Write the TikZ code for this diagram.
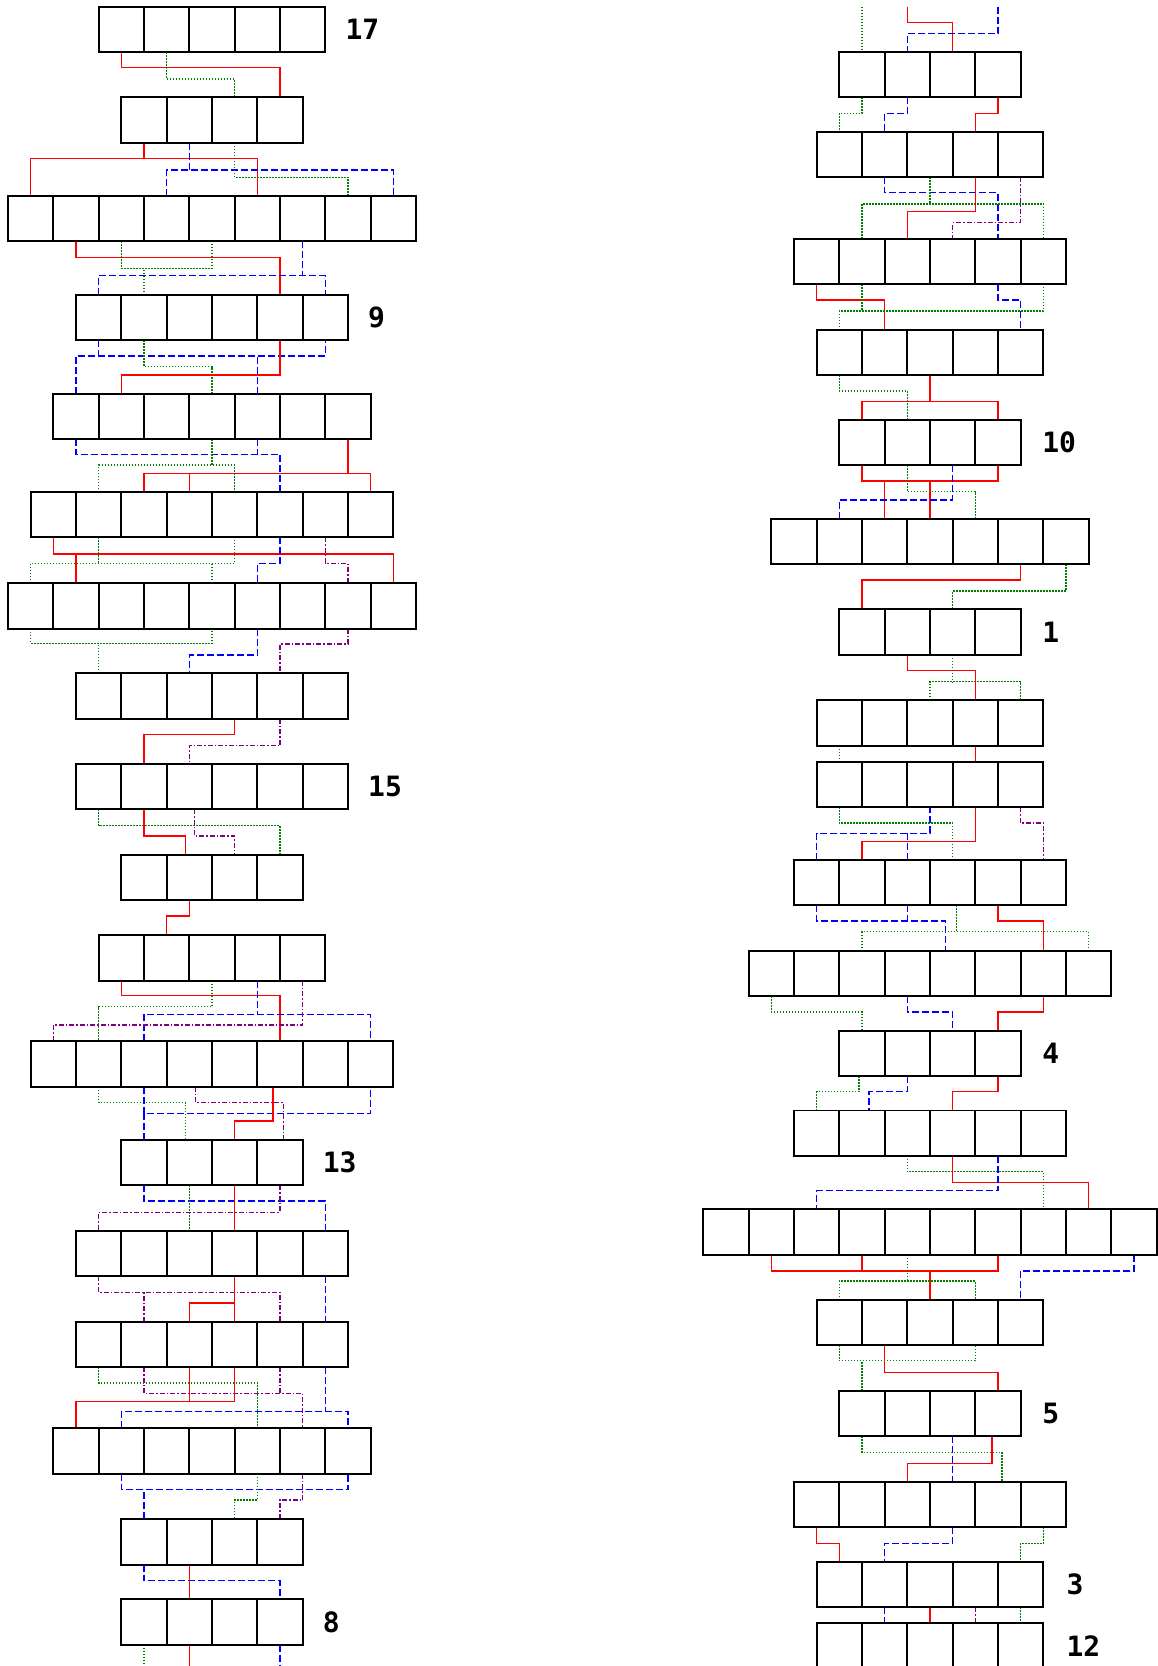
\documentclass[tikz,border=0pt]{standalone}
\usepackage{fontspec}
\newfontfamily\labfont{DejaVu Sans Mono}
\usetikzlibrary{backgrounds}
\definecolor{cR}{RGB}{255,0,0}
\definecolor{cB}{RGB}{0,0,255}
\definecolor{cG}{RGB}{0,128,0}
\definecolor{cP}{RGB}{128,0,128}
\newcommand\mycrow[4]{\foreach \i in {1,...,#2}{\node[cell] (#1\i) at ({#3+(\i-(#2+1)/2)*45.333},{#4+22.667}) {};}}
\newcommand\mylnk[4]{\draw[#1] (#2) -- (#2 |- 0,#3) -| (#4);}
\newcommand\myubar[4]{\draw[#1] (#2) -- (#2 |- 0,#4) -- (#3 |- 0,#4) -- (#3);}
\newcommand\mystub[3]{\draw[#1] (#2) -- (#2 |- 0,#3);}
\begin{document}
\begin{tikzpicture}[x=1pt,y=-1pt,
  cell/.style={draw=black,line width=1.8pt,minimum width=45.333pt,minimum height=45.333pt,inner sep=0pt,outer sep=0pt},
  rd/.style={draw=cR,line width=1.3pt},
  bl/.style={draw=cB,line width=1.3pt,dash pattern=on 7pt off 3pt},
  gr/.style={draw=cG,line width=1.3pt,dash pattern=on 1.5pt off 1.5pt},
  pu/.style={draw=cP,line width=1.3pt,dash pattern=on 5pt off 2pt on 1.5pt off 2pt},
  lab/.style={font=\labfont\bfseries\fontsize{28}{30}\selectfont,inner sep=0pt,anchor=west}]
\useasboundingbox (0,0) rectangle (1158,1666);
% ---------------- left column rows
\mycrow{LA}{5}{212}{6.7}
\mycrow{LB}{4}{212}{97.3}
\mycrow{LC}{9}{212}{195.7}
\mycrow{LD}{6}{212}{295}
\mycrow{LE}{7}{212}{393.7}
\mycrow{LF}{8}{212}{492}
\mycrow{LG}{9}{212}{583.3}
\mycrow{LH}{6}{212}{673.3}
\mycrow{LI}{6}{212}{764}
\mycrow{LJ}{4}{212}{855}
\mycrow{LK}{5}{212}{935.3}
\mycrow{LL}{8}{212}{1041.3}
\mycrow{LM}{4}{212}{1140}
\mycrow{LN}{6}{212}{1231}
\mycrow{LO}{6}{212}{1321.7}
\mycrow{LP}{7}{212}{1428.3}
\mycrow{LQ}{4}{212}{1519.3}
\mycrow{LR}{4}{212}{1599.3}
% ---------------- right column rows
\mycrow{Ra}{4}{930}{51.7}
\mycrow{Rb}{5}{930}{131.7}
\mycrow{Rc}{6}{930}{238.7}
\mycrow{Rd}{5}{930}{330}
\mycrow{Re}{4}{930}{420}
\mycrow{Rf}{7}{930}{519}
\mycrow{Rg}{4}{930}{609.3}
\mycrow{Rh}{5}{930}{700.3}
\mycrow{Ri}{5}{930}{761.7}
\mycrow{Rj}{6}{930}{860}
\mycrow{Rk}{8}{930}{951}
\mycrow{Rl}{4}{930}{1031}
\mycrow{Rm}{6}{930}{1110.5}
\mycrow{Rn}{10}{930}{1209.3}
\mycrow{Ro}{5}{930}{1300}
\mycrow{Rp}{4}{930}{1390.7}
\mycrow{Rq}{6}{930}{1481.7}
\mycrow{Rr}{5}{930}{1562}
\mycrow{Rs}{5}{930}{1623.3}
% ---------------- labels
\node[lab] (l17) at ([xshift=20pt]LA5.east) {17};
\node[lab] (l9) at ([xshift=20pt]LD6.east) {9};
\node[lab] (l15) at ([xshift=20pt]LI6.east) {15};
\node[lab] (l13) at ([xshift=20pt]LM4.east) {13};
\node[lab] (l8) at ([xshift=20pt]LR4.east) {8};
\node[lab] (l10) at ([xshift=21.5pt]Re4.east) {10};
\node[lab] (l1) at ([xshift=21.5pt]Rg4.east) {1};
\node[lab] (l4) at ([xshift=21.5pt]Rl4.east) {4};
\node[lab] (l5) at ([xshift=21.5pt]Rp4.east) {5};
\node[lab] (l3) at ([xshift=23pt]Rr5.east) {3};
\node[lab] (l12) at ([xshift=23pt]Rs5.east) {12};
% ---------------- offset attachment points and free ends
\coordinate (oJ2r) at ([xshift=-4pt]LJ2.north);
\coordinate (oI3p) at ([xshift=5pt]LI3.south);
\coordinate (oM2g) at ([xshift=-4pt]LM2.north);
\coordinate (oL4p) at ([xshift=6.5pt]LL4.south);
\coordinate (oM4p) at ([xshift=3.5pt]LM4.north);
\coordinate (oL6r) at ([xshift=-7pt]LL6.south);
\coordinate (oK5b) at ([xshift=-7pt]Rk5.north);
\coordinate (oJ4g) at ([xshift=4pt]Rj4.south);
\coordinate (oL1g) at ([xshift=-3pt]Rl1.south);
\coordinate (oM2b) at ([xshift=7pt]Rm2.north);
\coordinate (oQ5g) at ([xshift=4pt]Rq5.north);
\coordinate (oP4r) at ([xshift=-6pt]Rp4.south);
\coordinate (tG) at (Ra1.north |- 0,6.7);
\coordinate (tR) at (Ra2.north |- 0,6.7);
\coordinate (tB) at (Ra4.north |- 0,6.7);
\coordinate (eG) at (LR1.south |- 0,1670);
\coordinate (eR) at (LR2.south |- 0,1670);
\coordinate (eB) at (LR4.south |- 0,1670);
\begin{scope}[on background layer]
\fill[white] (0,0) rectangle (1158,1666);
% ===== left: A-B
\mylnk{rd}{LA1.south}{67.7}{LB4.north}
\mylnk{gr}{LA2.south}{79}{LB3.north}
% B-C
\myubar{rd}{LC1.north}{LC6.north}{158.7}\mystub{rd}{LB1.south}{158.7}
\myubar{bl}{LC4.north}{LC9.north}{170}\mystub{bl}{LB2.south}{170}
\mylnk{gr}{LB3.south}{177.3}{LC8.north}
% C-D
\mylnk{rd}{LC2.south}{257.3}{LD5.north}
\myubar{gr}{LC3.south}{LC5.south}{268.3}\mystub{gr}{LD2.north}{268.3}
\myubar{bl}{LD1.north}{LD6.north}{275.7}\mystub{bl}{LC7.south}{275.7}
% D-E
\myubar{bl}{LE1.north}{LD6.south}{356}\mystub{bl}{LD1.south}{356}\mystub{bl}{LE5.north}{356}
\mylnk{gr}{LD2.south}{366.7}{LE4.north}
\mylnk{rd}{LD5.south}{375}{LE2.north}
% E-F
\myubar{bl}{LE1.south}{LF6.north}{454.3}\mystub{bl}{LE5.south}{454.3}
\myubar{gr}{LF2.north}{LF5.north}{465}\mystub{gr}{LE4.south}{465}
\myubar{rd}{LF3.north}{LF8.north}{473.3}\mystub{rd}{LF4.north}{473.3}\mystub{rd}{LE7.south}{473.3}
% F-G
\myubar{rd}{LF1.south}{LG9.north}{554}\mystub{rd}{LG2.north}{554}
\myubar{gr}{LG1.north}{LF5.south}{563.3}\mystub{gr}{LF2.south}{563.3}\mystub{gr}{LG5.north}{563.3}
\mylnk{bl}{LF6.south}{563.3}{LG6.north}
\mylnk{pu}{LF7.south}{563.3}{LG8.north}
% G-H
\myubar{gr}{LG1.south}{LG5.south}{643.3}\mystub{gr}{LH1.north}{643.3}
\mylnk{bl}{LG6.south}{655}{LH3.north}
\mylnk{pu}{LG8.south}{644}{LH5.north}
% H-I
\mylnk{rd}{LH4.south}{734.3}{LI2.north}
\mylnk{pu}{LH5.south}{745.7}{LI3.north}
% I-J
\mylnk{gr}{LI1.south}{825.7}{LJ4.north}
\mylnk{rd}{LI2.south}{836}{oJ2r}
\mylnk{pu}{oI3p}{836}{LJ3.north}
% J-K
\mylnk{rd}{LJ2.south}{916}{LK2.north}
% K-L
\mylnk{rd}{LK1.south}{995.7}{LL6.north}
\mylnk{gr}{LK3.south}{1006.7}{LL2.north}
\myubar{bl}{LL3.north}{LL8.north}{1014.3}\mystub{bl}{LK4.south}{1014.3}
\mylnk{pu}{LK5.south}{1025}{LL1.north}
% L-M
\mylnk{gr}{LL2.south}{1102.7}{oM2g}
\myubar{bl}{LL3.south}{LL8.south}{1113.3}\mystub{bl}{LM1.north}{1113.3}
\mylnk{pu}{oL4p}{1102.7}{oM4p}
\mylnk{rd}{oL6r}{1121}{LM3.north}
% M-N
\mylnk{bl}{LM1.south}{1201}{LN6.north}
\draw[gr] (LM2.south) -- (LN3.north);
\draw[rd] (LM3.south) -- (LN4.north);
\mylnk{pu}{LM4.south}{1212.3}{LN1.north}
% N-O
\myubar{pu}{LN1.south}{LO5.north}{1292.3}\mystub{pu}{LO2.north}{1292.3}
\draw[rd] (LN4.south) -- (LO4.north);
\draw[rd] (LN4.south |- 0,1303) -| (LO3.north);
\draw[bl] (LN6.south) -- (LO6.north);
% O-P
\mylnk{gr}{LO1.south}{1383}{LP5.north}
\myubar{pu}{LO2.south}{LP6.north}{1393.3}\mystub{pu}{LO5.south}{1393.3}
\myubar{rd}{LP1.north}{LO4.south}{1401.7}\mystub{rd}{LO3.south}{1401.7}
\myubar{bl}{LP2.north}{LP7.north}{1411.7}\mystub{bl}{LO6.south}{1411.7}
% P-Q
\myubar{bl}{LP2.south}{LP7.south}{1489.3}\mystub{bl}{LQ1.north}{1489.3}
\mylnk{gr}{LP5.south}{1500}{LQ3.north}
\mylnk{pu}{LP6.south}{1500}{LQ4.north}
% Q-R
\mylnk{bl}{LQ1.south}{1580.7}{LR4.north}
\draw[rd] (LQ2.south) -- (LR2.north);
% R-bottom
\draw[gr] (LR1.south) -- (eG);
\draw[rd] (LR2.south) -- (eR);
\draw[bl] (LR4.south) -- (eB);
% ===== right: top
\draw[gr] (tG) -- (Ra1.north);
\mylnk{rd}{tR}{22.7}{Ra3.north}
\mylnk{bl}{tB}{33.3}{Ra2.north}
% a-b
\mylnk{gr}{Ra1.south}{113.3}{Rb1.north}
\mylnk{bl}{Ra2.south}{113.3}{Rb2.north}
\mylnk{rd}{Ra4.south}{113.3}{Rb4.north}
% b-c
\mylnk{bl}{Rb2.south}{192.7}{Rc5.north}
\myubar{gr}{Rc2.north}{Rc6.north}{204}\mystub{gr}{Rb3.south}{204}
\mylnk{rd}{Rb4.south}{211.7}{Rc3.north}
\mylnk{pu}{Rb5.south}{222.7}{Rc4.north}
% c-d
\mylnk{rd}{Rc1.south}{300}{Rd2.north}
\myubar{gr}{Rd1.north}{Rc6.south}{311}\mystub{gr}{Rc2.south}{311}
\mylnk{bl}{Rc5.south}{300}{Rd5.north}
% d-e
\mylnk{gr}{Rd1.south}{391}{Re2.north}
\myubar{rd}{Re1.north}{Re4.north}{401.7}\mystub{rd}{Rd3.south}{401.7}
% e-f
\myubar{rd}{Re1.south}{Re4.south}{481}\mystub{rd}{Rf3.north}{481}\mystub{rd}{Rf4.north}{481}
\mylnk{gr}{Re2.south}{491.7}{Rf5.north}
\mylnk{bl}{Re3.south}{500}{Rf2.north}
% f-g
\mylnk{rd}{Rf6.south}{580}{Rg1.north}
\mylnk{gr}{Rf7.south}{591}{Rg3.north}
% g-h
\mylnk{rd}{Rg2.south}{670.7}{Rh4.north}
\myubar{gr}{Rh3.north}{Rh5.north}{681.7}\mystub{gr}{Rg3.south}{681.7}
% h-i
\draw[gr] (Rh1.south) -- (Ri1.north);
\draw[rd] (Rh4.south) -- (Ri4.north);
% i-j
\mylnk{gr}{Ri1.south}{823}{Rj4.north}
\myubar{bl}{Rj1.north}{Ri3.south}{833.3}\mystub{bl}{Rj3.north}{833.3}
\mylnk{rd}{Ri4.south}{841.7}{Rj2.north}
\mylnk{pu}{Ri5.south}{823}{Rj6.north}
% j-k
\myubar{bl}{Rj1.south}{oK5b}{921}\mystub{bl}{Rj3.south}{921}
\myubar{gr}{Rk3.north}{Rk8.north}{931.7}\mystub{gr}{oJ4g}{931.7}
\mylnk{rd}{Rj5.south}{921}{Rk7.north}
% k-l
\mylnk{gr}{Rk1.south}{1012}{Rl1.north}
\mylnk{bl}{Rk4.south}{1012}{Rl3.north}
\mylnk{rd}{Rk7.south}{1012}{Rl4.north}
% l-m
\mylnk{gr}{oL1g}{1091.7}{Rm1.north}
\mylnk{bl}{Rl2.south}{1091.7}{oM2b}
\mylnk{rd}{Rl4.south}{1091.7}{Rm4.north}
% m-n
\mylnk{gr}{Rm3.south}{1171.7}{Rn8.north}
\mylnk{rd}{Rm4.south}{1182.3}{Rn9.north}
\mylnk{bl}{Rm5.south}{1190.7}{Rn3.north}
% n-o
\myubar{rd}{Rn2.south}{Rn7.south}{1271}\mystub{rd}{Rn4.south}{1271}\mystub{rd}{Ro3.north}{1271}
\myubar{gr}{Ro1.north}{Ro4.north}{1281}\mystub{gr}{Rn5.south}{1281}
\mylnk{bl}{Rn10.south}{1271}{Ro5.north}
% o-p
\myubar{gr}{Ro1.south}{Ro4.south}{1360.7}\mystub{gr}{Rp1.north}{1360.7}
\mylnk{rd}{Ro2.south}{1372.3}{Rp4.north}
% p-q
\mylnk{gr}{Rp1.south}{1452.3}{oQ5g}
\draw[bl] (Rp3.south) -- (Rq4.north);
\mylnk{rd}{oP4r}{1463.3}{Rq3.north}
% q-r
\mylnk{rd}{Rq1.south}{1543.3}{Rr1.north}
\mylnk{bl}{Rq4.south}{1543.3}{Rr2.north}
\mylnk{gr}{Rq6.south}{1543.3}{Rr5.north}
% r-s
\draw[bl] (Rr2.south) -- (Rs2.north);
\draw[rd] (Rr3.south) -- (Rs3.north);
\draw[pu] (Rr4.south) -- (Rs4.north);
\draw[gr] (Rr5.south) -- (Rs5.north);
\end{scope}
\end{tikzpicture}
\end{document}
